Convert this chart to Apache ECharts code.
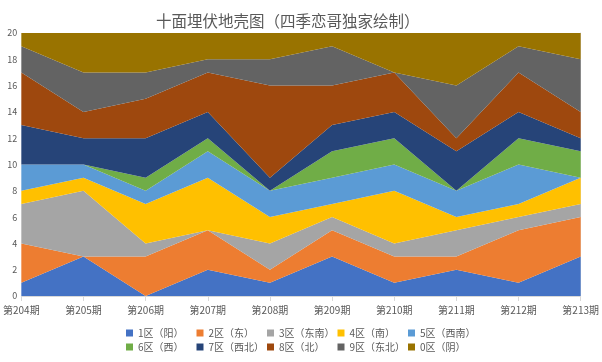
<!DOCTYPE html>
<html><head><meta charset="utf-8">
<script src="https://cdn.jsdelivr.net/npm/echarts@6/dist/echarts.min.js"></script>
<style>html,body{margin:0;padding:0;background:#fff}#c{width:602px;height:362px}</style>
</head><body><div id="c"></div>
<script>
const categories = ['第204期','第205期','第206期','第207期','第208期','第209期','第210期','第211期','第212期','第213期'];
const seriesNames = ['1区（阳）','2区（东）','3区（东南）','4区（南）','5区（西南）','6区（西）','7区（西北）','8区（北）','9区（东北）','0区（阴）'];
const s1 = [1,3,0,2,1,3,1,2,1,3];
const s2 = [3,0,3,3,1,2,2,1,4,3];
const s3 = [3,5,1,0,2,1,1,2,1,1];
const s4 = [1,1,3,4,2,1,4,1,1,2];
const s5 = [2,1,1,2,2,2,2,2,3,0];
const s6 = [0,0,1,1,0,2,2,0,2,2];
const s7 = [3,2,3,2,1,2,2,3,2,1];
const s8 = [4,2,3,3,7,3,3,1,3,2];
const s9 = [2,3,2,1,2,3,0,4,2,4];
const s0 = [1,3,3,2,2,1,3,4,1,2];
const yTicks = [0,2,4,6,8,10,12,14,16,18,20];
const colors = ['#4472C4','#ED7D31','#A5A5A5','#FFC000','#5B9BD5','#70AD47','#264478','#9E480E','#636363','#997300'];
const allData = [s1,s2,s3,s4,s5,s6,s7,s8,s9,s0];
const font = '"Noto Sans CJK SC", "Microsoft YaHei", sans-serif';
const chart = echarts.init(document.getElementById('c'));
const legends = seriesNames.map((n, i) => ({
  data: [n],
  left: 126 + 70.5 * (i % 5),
  top: i < 5 ? 328 : 342,
  padding: 0,
  itemWidth: 7, itemHeight: 7, icon: 'rect',
  textStyle: { fontSize: 10, color: '#595959', fontFamily: font }
}));
chart.setOption({
  animation: false,
  color: colors,
  title: {
    text: '十面埋伏地壳图（四季恋哥独家绘制）',
    left: 151, top: 8,
    textStyle: { fontSize: 15.5, fontWeight: 'normal', color: '#595959', fontFamily: font }
  },
  legend: legends,
  grid: { left: 21, right: 21, top: 33, bottom: 66, containLabel: false },
  xAxis: {
    type: 'category', data: categories, boundaryGap: false,
    axisLine: { lineStyle: { color: '#D9D9D9' } },
    axisTick: { show: true, alignWithLabel: true, length: 5, lineStyle: { color: '#D9D9D9' } },
    axisLabel: { color: '#595959', fontSize: 10, fontFamily: font, interval: 0, margin: 9 }
  },
  yAxis: [{
    type: 'value', min: yTicks[0], max: yTicks[yTicks.length-1], interval: 2,
    axisLine: { show: false }, axisTick: { show: false },
    splitLine: { show: false },
    axisLabel: { color: '#595959', fontSize: 9, fontFamily: font, margin: 4 }
  }, {
    type: 'value', position: 'right', min: 0, max: 20, interval: 2,
    axisLine: { show: true, lineStyle: { color: '#D9D9D9' } }, axisTick: { show: false },
    axisLabel: { show: false }, splitLine: { show: false }
  }],
  series: allData.map((d, i) => ({
    name: seriesNames[i], type: 'line', stack: 'total', data: d, z: 1,
    symbol: 'none', lineStyle: { width: 0 },
    areaStyle: { color: colors[i], opacity: 1 },
    itemStyle: { color: colors[i] }
  }))
});
</script></body></html>
